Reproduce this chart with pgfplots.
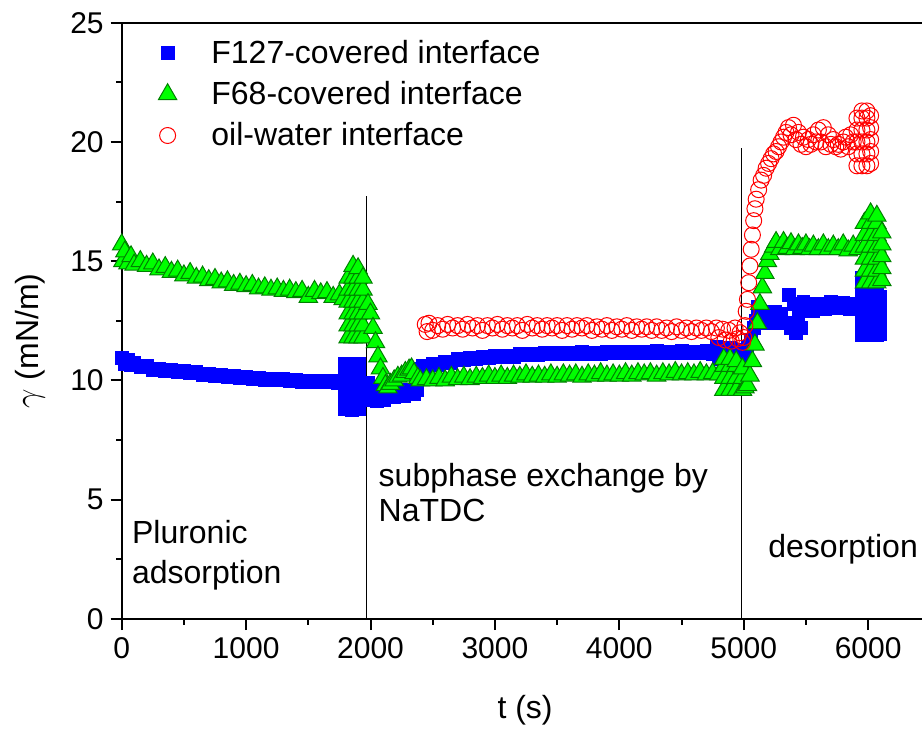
\documentclass[border=0pt]{standalone}
\usepackage{fontspec}
\setmainfont{Liberation Sans}
\usepackage{pgfplots}
\pgfplotsset{compat=1.18}
\begin{document}
\begin{tikzpicture}[font=\fontsize{16}{19}\selectfont]
\begin{axis}[
  at={(60.85pt,55pt)}, anchor=south west,
  scale only axis, width=400.15pt, height=298.15pt,
  xmin=0, xmax=6433, ymin=0, ymax=25,
  axis x line*=box, axis y line*=left,
  axis line style={-, line width=1pt},
  xtick={0,1000,...,6000}, ytick={0,5,...,25},
  minor tick num=1,
  tick align=outside, xtick pos=left, ytick pos=left,
  major tick length=5.5pt, minor tick length=2.75pt,
  every tick/.style={black, line width=1pt},
  tick label style={font=\fontsize{15}{18}\selectfont},
  /pgf/number format/assume math mode=true,
  /pgf/number format/1000 sep={},
  scaled ticks=false,
  xlabel={t (s)}, ylabel={$\gamma$ (mN/m)},
  xlabel style={at={(axis description cs:0.504,-0.153)}, anchor=center},
  ylabel style={at={(axis description cs:-0.1146,0.466)}, anchor=center},
  legend style={draw=none, fill=none, at={(axis description cs:0.0379,0.985)},
    anchor=north west, row sep=3.5pt, column sep=15.3pt},
  legend cell align=left,
]
% F127-covered interface
\addplot[only marks, mark=square*, mark size=3.2pt, color=blue] coordinates {
(0,10.95)(25,10.7)(50,10.85)(75,10.65)(100,10.75)(150,10.55)(200,10.6)(250,10.45)
(300,10.5)(350,10.4)(400,10.45)(450,10.35)(500,10.4)(550,10.3)(600,10.35)(650,10.25)
(700,10.3)(750,10.2)(800,10.25)(850,10.15)(900,10.2)(950,10.1)(1000,10.15)(1050,10.05)
(1100,10.12)(1150,10.02)(1200,10.08)(1250,10.0)(1300,10.05)(1350,9.97)(1400,10.02)
(1450,9.95)(1500,10.0)(1550,9.93)(1600,10.0)(1650,9.95)(1700,10.0)(1740,9.9)
(1790,8.8)(1790,9.3)(1790,9.8)(1790,10.3)(1790,10.7)
(1850,8.75)(1850,9.25)(1850,9.75)(1850,10.25)(1850,10.7)
(1905,8.8)(1905,9.3)(1905,9.8)(1905,10.3)(1905,10.7)
(1980,9.9)(2000,9.2)(2020,9.7)(2050,9.15)(2080,9.6)(2110,9.2)(2150,9.5)(2190,9.3)
(2230,9.55)(2270,9.35)(2310,9.6)(2350,9.45)(2370,9.6)
(2400,10.5)(2420,10.6)(2450,10.55)(2500,10.7)(2550,10.65)(2600,10.8)(2650,10.75)
(2700,10.9)(2750,10.85)(2800,10.95)(2850,10.9)(2900,11.0)(2950,10.95)(3000,11.05)
(3050,11.0)(3100,11.05)(3150,11.0)(3200,11.1)(3250,11.05)(3300,11.1)(3350,11.05)
(3400,11.15)(3450,11.1)(3500,11.15)(3550,11.1)(3600,11.15)(3650,11.1)(3700,11.2)
(3750,11.12)(3800,11.18)(3850,11.12)(3900,11.2)(3950,11.15)(4000,11.2)(4050,11.15)
(4100,11.22)(4150,11.15)(4200,11.2)(4250,11.15)(4300,11.25)(4350,11.15)(4400,11.22)
(4450,11.15)(4500,11.25)(4550,11.15)(4600,11.22)(4650,11.15)(4700,11.25)(4750,11.1)
(4780,11.4)(4800,10.9)(4830,11.3)(4860,10.95)(4890,11.35)(4920,11.0)(4950,11.3)
(4980,11.05)(5000,11.2)(5030,11.4)(5060,11.7)(5080,12.2)(5100,12.5)(5110,13.1)
(5130,12.4)(5150,12.9)(5170,12.5)(5200,12.8)(5220,12.4)(5250,12.9)(5280,12.5)
(5300,12.8)(5330,12.4)(5360,13.6)(5380,12.2)(5400,13.2)(5420,12.0)(5440,12.8)
(5460,12.2)(5480,13.3)(5500,12.9)(5530,13.2)(5560,12.9)(5600,13.2)(5650,13.0)
(5700,13.3)(5750,13.05)(5800,13.25)(5850,13.0)(5900,13.2)
(5950,11.9)(5950,12.4)(5950,12.9)(5950,13.4)(5950,13.9)(5950,14.3)
(6010,11.9)(6010,12.4)(6010,12.9)(6010,13.4)(6010,13.9)(6010,14.3)
(6070,11.9)(6070,12.4)(6070,12.9)(6070,13.4)(6070,13.9)(6070,14.2)
(6095,11.95)(6095,12.5)(6095,13.0)(6095,13.5)
};
\addlegendentry{F127-covered interface}
% F68-covered interface
\addplot[only marks, mark=triangle*, mark size=5.3pt,
  mark options={fill=green, draw=green!50!black, line width=0.5pt}] coordinates {
(0,15.7)(10,15.0)(25,15.4)(50,14.9)(75,15.2)(100,14.85)(150,15.0)(200,14.8)(250,14.9)
(300,14.65)(350,14.75)(400,14.55)(450,14.6)(500,14.4)(550,14.5)(600,14.3)(650,14.35)
(700,14.2)(750,14.25)(800,14.1)(850,14.15)(900,14.0)(950,14.05)(1000,13.95)(1050,14.0)
(1100,13.85)(1150,13.9)(1200,13.8)(1250,13.85)(1300,13.75)(1350,13.8)(1400,13.7)
(1450,13.75)(1500,13.5)(1550,13.75)(1600,13.65)(1650,13.7)(1700,13.5)(1750,13.6)(1780,13.4)
(1820,11.8)(1820,12.3)(1820,12.8)(1820,13.3)(1820,13.8)(1820,14.3)
(1860,11.8)(1860,12.3)(1860,12.8)(1860,13.3)(1860,13.8)(1860,14.3)(1860,14.8)
(1900,11.8)(1900,12.3)(1900,12.8)(1900,13.3)(1900,13.8)(1900,14.3)(1900,14.7)
(1940,11.8)(1940,12.3)(1940,12.8)(1940,13.3)(1940,13.8)(1940,14.3)
(1980,13.2)(2000,12.8)(2020,12.2)(2040,11.6)(2060,11.0)(2080,10.5)(2100,10.1)
(2120,9.8)(2140,9.7)(2160,9.85)(2190,10.0)(2220,10.15)(2250,10.2)(2280,10.35)
(2310,10.45)(2330,10.5)(2350,10.3)(2380,10.1)(2400,10.0)
(2450,10.05)(2500,10.0)(2550,10.1)(2600,10.0)(2650,10.15)(2700,10.05)(2750,10.15)
(2800,10.05)(2850,10.15)(2900,10.1)(2950,10.2)(3000,10.1)(3050,10.2)(3100,10.1)
(3150,10.2)(3200,10.15)(3250,10.25)(3300,10.15)(3350,10.2)(3400,10.15)(3450,10.25)
(3500,10.15)(3550,10.25)(3600,10.2)(3650,10.25)(3700,10.15)(3750,10.25)(3800,10.2)
(3850,10.3)(3900,10.2)(3950,10.25)(4000,10.2)(4050,10.3)(4100,10.2)(4150,10.3)
(4200,10.25)(4250,10.3)(4300,10.2)(4350,10.3)(4400,10.25)(4450,10.35)(4500,10.25)
(4550,10.3)(4600,10.25)(4650,10.35)(4700,10.25)(4750,10.3)(4800,10.25)
(4840,9.6)(4840,10.1)(4840,10.6)(4840,10.9)
(4890,9.6)(4890,10.1)(4890,10.6)(4890,10.9)
(4940,9.6)(4940,10.1)(4940,10.6)(4940,10.8)
(4990,9.6)(4990,10.1)(4990,10.5)
(5010,9.7)(5030,9.8)(5050,10.2)(5070,10.8)(5090,11.5)(5110,12.4)(5130,13.2)
(5150,13.9)(5170,14.5)(5190,15.0)(5210,15.3)
(5240,15.6)(5260,15.8)(5290,15.5)(5320,15.8)(5350,15.55)(5380,15.75)(5410,15.5)
(5440,15.7)(5470,15.55)(5500,15.7)(5530,15.5)(5560,15.65)(5600,15.5)(5640,15.7)
(5680,15.5)(5720,15.65)(5760,15.5)(5800,15.7)(5840,15.45)(5880,15.65)(5920,15.5)
(5970,14.1)(5970,14.6)(5970,15.1)(5970,15.6)(5970,16.1)(5970,16.6)
(6020,14.1)(6020,14.6)(6020,15.1)(6020,15.6)(6020,16.1)(6020,16.6)(6020,17.0)
(6070,14.1)(6070,14.6)(6070,15.1)(6070,15.6)(6070,16.1)(6070,16.6)(6070,16.9)
(6110,14.2)(6110,14.7)(6110,15.2)(6110,15.7)(6110,16.2)
};
\addlegendentry{F68-covered interface}
% oil-water interface
\addplot[only marks, mark=o, mark size=4pt,
  mark options={draw=red, line width=0.5pt}] coordinates {
(2440,12.35)(2455,12.05)(2470,12.4)(2500,12.1)(2540,12.3)(2580,12.15)(2620,12.35)
(2660,12.2)(2700,12.3)(2740,12.15)(2780,12.35)(2820,12.2)(2860,12.3)(2900,12.1)
(2940,12.3)(2980,12.2)(3020,12.35)(3060,12.15)(3100,12.3)(3140,12.2)(3180,12.3)
(3220,12.1)(3260,12.35)(3300,12.2)(3340,12.3)(3380,12.15)(3420,12.3)(3460,12.2)
(3500,12.3)(3540,12.1)(3580,12.3)(3620,12.15)(3660,12.3)(3700,12.2)(3740,12.3)
(3780,12.1)(3820,12.25)(3860,12.15)(3900,12.3)(3940,12.1)(3980,12.25)(4020,12.15)
(4060,12.3)(4100,12.1)(4140,12.25)(4180,12.15)(4220,12.25)(4260,12.1)(4300,12.25)
(4340,12.1)(4380,12.2)(4420,12.05)(4460,12.25)(4500,12.1)(4540,12.2)(4580,12.05)
(4620,12.2)(4660,12.1)(4700,12.2)(4740,12.05)
(4780,12.2)(4800,11.8)(4830,12.15)(4850,11.7)(4880,12.1)(4900,11.65)(4930,12.2)
(4950,11.75)(4970,12.0)(4990,11.6)
(5000,11.8)(5010,12.3)(5020,12.9)(5030,13.4)(5040,14.1)(5050,14.8)(5060,15.5)
(5070,16.1)(5080,16.7)(5090,17.2)(5100,17.6)(5120,18.0)(5140,18.4)(5160,18.6)
(5180,18.9)(5200,19.1)(5220,19.3)(5240,19.5)(5260,19.6)(5280,19.8)(5300,20.0)
(5320,20.2)(5340,20.4)(5360,20.6)(5380,20.3)(5400,20.7)(5420,20.1)(5440,20.4)
(5460,19.9)(5480,20.2)(5500,19.8)(5520,20.1)(5540,19.9)(5560,20.3)(5580,20.0)
(5600,20.5)(5620,20.0)(5640,20.6)(5660,19.8)(5680,20.3)(5700,19.9)(5720,20.1)
(5740,19.8)(5760,19.9)(5780,19.7)(5800,20.0)(5820,20.2)(5840,19.8)(5860,20.3)(5880,20.0)
(5910,19.0)(5910,19.5)(5910,20.0)(5910,20.5)(5910,21.0)
(5950,19.0)(5950,19.5)(5950,20.0)(5950,20.5)(5950,21.0)(5950,21.3)
(5990,19.0)(5990,19.5)(5990,20.0)(5990,20.5)(5990,21.0)(5990,21.3)
(6020,19.1)(6020,19.6)(6020,20.1)(6020,20.6)(6020,21.1)
};
\addlegendentry{oil-water interface}
\draw[line width=0.75pt] (axis cs:1969,0) -- (axis cs:1969,17.74);
\draw[line width=0.75pt] (axis cs:4982,0) -- (axis cs:4982,19.74);
\node[anchor=base west, inner sep=0pt] at (axis cs:80,3.17) {Pluronic};
\node[anchor=base west, inner sep=0pt] at (axis cs:80,1.50) {adsorption};
\node[anchor=base west, inner sep=0pt] at (axis cs:2063,5.55) {subphase exchange by};
\node[anchor=base west, inner sep=0pt] at (axis cs:2063,4.08) {NaTDC};
\node[anchor=base west, inner sep=0pt] at (axis cs:5195,2.56) {desorption};
\end{axis}
\pgfresetboundingbox
\path[use as bounding box] (0,0) rectangle (461pt,364.5pt);
\end{tikzpicture}
\end{document}
